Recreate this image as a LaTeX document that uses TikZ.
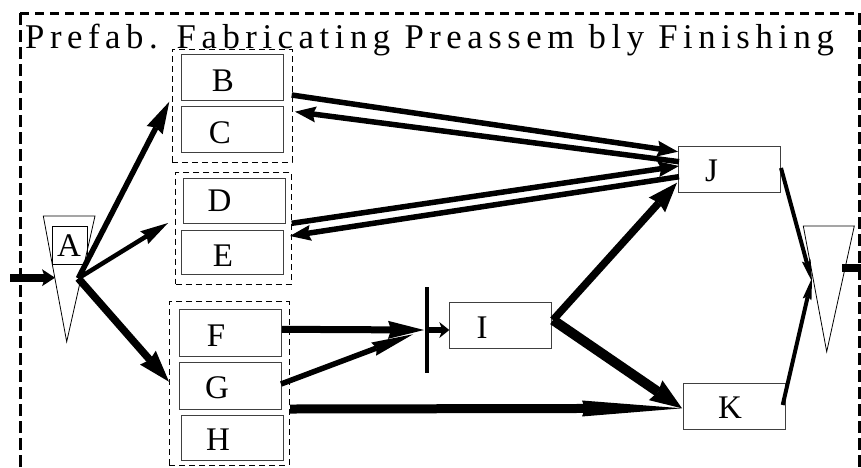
\documentclass[tikz,border=0pt]{standalone}
\usepackage{fontspec}
\setmainfont{Liberation Serif}
\newfontfamily\titlefont[LetterSpace=16]{Liberation Serif}
\usetikzlibrary{arrows.meta}
\tikzset{
  box/.style={draw=black!75, line width=1pt, inner sep=0pt},
  grp/.style={draw=black, line width=1pt, dash pattern=on 6pt off 4pt, inner sep=0pt},
  lbl/.style={anchor=base, inner sep=0pt, font=\fontsize{33}{33}\selectfont},
  tri/.style={draw=black, line width=0.8pt, fill=white},
  conn/.style={draw=black, line cap=butt},
  head/.style n args={2}{-{Stealth[length=#1, width=#2, inset=3pt, line width=0pt]}}
}
\begin{document}
\begin{tikzpicture}[x=1pt,y=-1pt]
\useasboundingbox (0,0) rectangle (861,467);
% frame
\draw[line width=3pt, dash pattern=on 12pt off 5pt] (20,467) -- (20,13);
\draw[line width=3pt, dash pattern=on 9pt off 6pt] (20,13) -- (859,13);
\draw[line width=3pt, dash pattern=on 12pt off 5pt] (859,13) -- (859,467);
% title
\node[anchor=base west, inner sep=0pt, font=\titlefont\fontsize{34.7}{35}\selectfont] (title) at (25,48) {Prefab. Fabricating Preassem bly Finishing};
% groups
\node[grp, minimum width=120pt, minimum height=113pt] (BC) at (232,105.5) {};
\node[grp, minimum width=116pt, minimum height=111.7pt] (DE) at (233.7,228.2) {};
\node[grp, minimum width=119.7pt, minimum height=163.3pt] (FGH) at (229.2,383.4) {};
% boxes
\node[box, minimum width=101.6pt, minimum height=45.7pt] (B) at (232.5,77.2) {};
\node[box, minimum width=102pt, minimum height=45.6pt] (C) at (232,129.5) {};
\node[box, minimum width=102pt, minimum height=45pt] (D) at (234.7,200.8) {};
\node[box, minimum width=102pt, minimum height=44.3pt] (E) at (232,252.8) {};
\node[box, minimum width=102.4pt, minimum height=47.4pt] (F) at (230.5,333) {};
\node[box, minimum width=102pt, minimum height=46.7pt] (G) at (230,385.7) {};
\node[box, minimum width=102.3pt, minimum height=45.3pt] (H) at (232.2,438.3) {};
\node[box, minimum width=101.7pt, minimum height=45.6pt] (I) at (500.2,325.5) {};
\node[box, minimum width=101.7pt, minimum height=45.6pt] (J) at (729.2,169.5) {};
\node[box, minimum width=101.7pt, minimum height=46pt] (K) at (734.2,406.3) {};
% triangles
\draw[tri] (43.3,216) -- (95,216) -- (66.7,341.7) -- cycle;
\draw[tri] (803.3,226) -- (854.3,226) -- (826.7,351.7) -- cycle;
\node[box, draw=black, minimum width=35pt, minimum height=38pt] (Abox) at (69.8,245) {};
% labels
\node[lbl] (At) at (69,256.7) {A};
\node[lbl] (Bt) at (223,91.7) {B};
\node[lbl] (Ct) at (220,143.3) {C};
\node[lbl] (Dt) at (219.5,211.7) {D};
\node[lbl] (Et) at (223,266.7) {E};
\node[lbl] (Ft) at (216,346) {F};
\node[lbl] (Gt) at (217,398.3) {G};
\node[lbl] (Ht) at (218,450) {H};
\node[lbl] (It) at (482,338.3) {I};
\node[lbl] (Jt) at (711.5,181.7) {J};
\node[lbl] (Kt) at (730,418.3) {K};
% coordinates
\coordinate (in) at (10,277.7);
\coordinate (Ain) at (55,277.7);
\coordinate (Afan) at (78.3,278.3);
\coordinate (BCin) at (169.3,101.7);
\coordinate (DEin) at (168,223);
\coordinate (FGHin) at (169,381.7);
\coordinate (Bout) at (291.7,95);
\coordinate (Jin1) at (678,151.7);
\coordinate (Jout1) at (679,161.7);
\coordinate (Cin) at (295,111.7);
\coordinate (Eout) at (291.7,223.3);
\coordinate (Jin2) at (679,166);
\coordinate (Jout2) at (679,176.7);
\coordinate (Ein) at (290,236);
\coordinate (Fout) at (282,329.3);
\coordinate (barF) at (424,330);
\coordinate (Gout) at (281,384);
\coordinate (barG) at (413,334.3);
\coordinate (bartop) at (426.7,287.3);
\coordinate (barbot) at (426.7,373.3);
\coordinate (barout) at (427,330);
\coordinate (Iin) at (449.3,330);
\coordinate (Gout2) at (290,409);
\coordinate (Kin) at (682,408.3);
\coordinate (Iout) at (553,320);
\coordinate (Jin3) at (677,182.7);
\coordinate (Jout3) at (781,168);
\coordinate (Zin1) at (812,281.7);
\coordinate (Kout) at (782.7,405);
\coordinate (Zin2) at (812,278);
\coordinate (Zout) at (842,268.3);
\coordinate (out) at (861,268.3);
% connectors
\draw[conn, line width=8pt, head={13pt}{17pt}] (in) -- (Ain);
\draw[conn, line width=5.5pt, head={32pt}{18pt}] (Afan) -- (BCin);
\draw[conn, line width=4.5pt, head={28pt}{15pt}] (Afan) -- (DEin);
\draw[conn, line width=7.5pt, head={32pt}{21pt}] (Afan) -- (FGHin);
\draw[conn, line width=5.5pt, head={21pt}{16pt}] (Bout) -- (Jin1);
\draw[conn, line width=5.5pt, head={21pt}{16pt}] (Jout1) -- (Cin);
\draw[conn, line width=5.5pt, head={21pt}{16pt}] (Eout) -- (Jin2);
\draw[conn, line width=5.5pt, head={21pt}{16pt}] (Jout2) -- (Ein);
\draw[conn, line width=7pt, head={36pt}{18pt}] (Fout) -- (barF);
\draw[conn, line width=5.5pt, head={42pt}{14pt}] (Gout) -- (barG);
\draw[conn, line width=4pt] (bartop) -- (barbot);
\draw[conn, line width=6pt, head={10pt}{16pt}] (barout) -- (Iin);
\draw[conn, line width=9pt, head={100pt}{16pt}] (Gout2) -- (Kin);
\draw[conn, line width=7.5pt, head={30pt}{22pt}] (Iout) -- (Jin3);
\draw[conn, line width=10pt, head={32pt}{24pt}] (Iout) -- (Kin);
\draw[conn, line width=4pt, head={22pt}{9pt}] (Jout3) -- (Zin1);
\draw[conn, line width=4pt, head={22pt}{9pt}] (Kout) -- (Zin2);
\draw[conn, line width=8pt] (Zout) -- (out);
\end{tikzpicture}
\end{document}
